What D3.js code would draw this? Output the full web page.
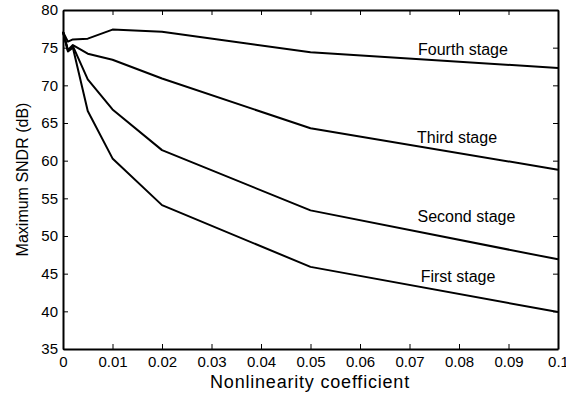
<!DOCTYPE html>
<html>
<head>
<meta charset="utf-8">
<script src="https://cdn.jsdelivr.net/npm/d3@7"></script>
<style>
body { margin: 0; background: #fff; }
svg { font-family: "Liberation Sans", Arial, sans-serif; }
.axis path, .axis line { stroke: #000; }
</style>
</head>
<body>
<div class="chart"></div>
<script>
var coeff = [0, 0.001, 0.002, 0.005, 0.01, 0.02, 0.05, 0.1];
var fourth = [77.1, 75.8, 76.1, 76.2, 77.4, 77.1, 74.4, 72.3];
var third = [77.1, 74.7, 75.35, 74.2, 73.4, 70.9, 64.3, 58.8];
var second = [77.1, 74.6, 75.2, 70.8, 66.8, 61.4, 53.4, 46.9];
var first = [77.1, 74.5, 75.0, 66.6, 60.3, 54.1, 45.9, 39.9];
var stageNames = ["Fourth stage", "Third stage", "Second stage", "First stage"];
var labelAt = [[0.0808, 74.0], [0.0796, 62.3], [0.0815, 51.9], [0.0798, 43.9]];
var xTicks = [0, 0.01, 0.02, 0.03, 0.04, 0.05, 0.06, 0.07, 0.08, 0.09, 0.1];
var yTicks = [35, 40, 45, 50, 55, 60, 65, 70, 75, 80];

var series = [fourth, third, second, first];

var width = 566, height = 397;
var margin = {top: 10, right: 8, bottom: 48, left: 63};
var w = width - margin.left - margin.right;
var h = height - margin.top - margin.bottom;

var svg = d3.select(".chart").append("svg")
	.attr("width", width)
	.attr("height", height);

var g = svg.append("g").attr("transform", "translate(" + margin.left + "," + margin.top + ")");

var x = d3.scaleLinear().domain([0, 0.1]).range([0, w]);
var y = d3.scaleLinear().domain([35, 80]).range([h, 0]);

var fmt = function(d) { return d === 0 ? "0" : d === 0.1 ? "0.1" : d3.format(".2f")(d); };

g.append("g").attr("class", "axis")
	.attr("transform", "translate(0," + h + ")")
	.call(d3.axisBottom(x).tickValues(xTicks).tickFormat(fmt).tickSizeInner(-5).tickSizeOuter(0).tickPadding(7));
g.append("g").attr("class", "axis")
	.call(d3.axisTop(x).tickValues(xTicks).tickFormat("").tickSizeInner(-5).tickSizeOuter(0));
g.append("g").attr("class", "axis")
	.call(d3.axisLeft(y).tickValues(yTicks).tickSizeInner(-5).tickSizeOuter(0).tickPadding(5));
g.append("g").attr("class", "axis")
	.attr("transform", "translate(" + w + ",0)")
	.call(d3.axisRight(y).tickValues(yTicks).tickFormat("").tickSizeInner(-5).tickSizeOuter(0));

g.selectAll(".axis")
	.attr("font-size", 15)
	.attr("font-family", "'Liberation Sans', Arial, sans-serif");
g.selectAll(".axis .domain").attr("stroke-width", 2);
g.selectAll(".axis .tick text").attr("fill", "#000");

var line = d3.line()
	.x(function(d, i) { return x(coeff[i]); })
	.y(function(d) { return y(d); });

g.selectAll("path.curve").data(series).enter().append("path")
	.attr("class", "curve")
	.attr("d", line)
	.attr("fill", "none")
	.attr("stroke", "#000")
	.attr("stroke-width", 2)
	.attr("stroke-linejoin", "round");

g.selectAll("text.lbl").data(stageNames).enter().append("text")
	.attr("class", "lbl")
	.attr("x", function(d, i) { return x(labelAt[i][0]); })
	.attr("y", function(d, i) { return y(labelAt[i][1]); })
	.attr("text-anchor", "middle")
	.attr("font-size", 16)
	.text(function(d) { return d; });

svg.append("text")
	.attr("x", 310)
	.attr("y", 388)
	.attr("text-anchor", "middle")
	.attr("font-size", 18)
	.attr("letter-spacing", 0.8)
	.text("Nonlinearity coefficient");

svg.append("text")
	.attr("transform", "translate(28," + (margin.top + h / 2) + ") rotate(-90)")
	.attr("text-anchor", "middle")
	.attr("font-size", 16)
	.text("Maximum SNDR (dB)");
</script>
</body>
</html>
